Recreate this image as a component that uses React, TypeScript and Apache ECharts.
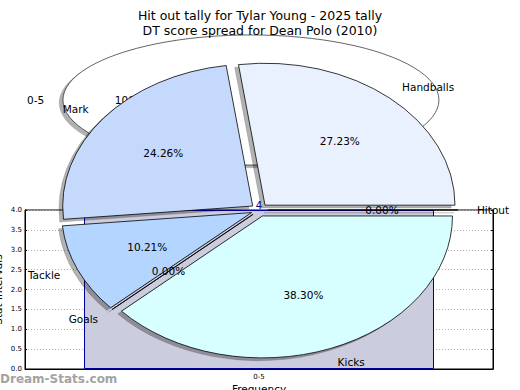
import React, { useEffect, useRef } from "react";
import * as echarts from "echarts";

const titleLines = [
  "Hit out tally for Tylar Young - 2025 tally",
  "DT score spread for Dean Polo (2010)",
];
const barCategories = ["0-5"];
const barValues = [4];
const xAxisName = "Frequency";
const yAxisName = "Stat Intervals";
const pieLabels = ["Kicks", "Goals", "Tackle", "Mark", "Handballs", "Hitout"];
const pieValues = [38.3, 0, 10.21, 24.26, 27.23, 0];
const pieColors = ["#d8ffff", "#c8dcff", "#b3d5ff", "#c5d9fd", "#eaf1fe", "#e2ebff"];
const watermark = "Dream-Stats.com";

const FONT = "DejaVu Sans";
const EXPLODE = 0.045;

type PieGeom = { cx: number; cy: number; rx: number; ry: number };

function makePieRender(
  values: number[],
  labels: string[],
  colors: string[],
  g: PieGeom
) {
  const total = values.reduce((a, b) => a + b, 0);
  const starts: number[] = [];
  let acc = 0;
  values.forEach((v) => {
    starts.push((acc / total) * Math.PI * 2);
    acc += v;
  });
  const sy = g.ry / g.rx;
  return (params: any, api: any) => {
    const i = params.dataIndex;
    const v = api.value(0);
    const start = starts[i];
    const end = start + (v / total) * Math.PI * 2;
    const mid = (start + end) / 2;
    const c = Math.cos(mid);
    const s = Math.sin(mid);
    const ox = EXPLODE * g.rx * c;
    const oy = EXPLODE * g.rx * s;
    const pct = ((v / total) * 100).toFixed(2) + "%";
    const lx = (EXPLODE + 1.1) * g.rx * c;
    const ly = (EXPLODE + 1.1) * g.ry * s;
    const px = (EXPLODE + 0.6) * g.rx * c;
    const py = (EXPLODE + 0.6) * g.ry * s;
    return {
      type: "group",
      x: g.cx,
      y: g.cy,
      children: [
        {
          type: "sector",
          scaleY: sy,
          shape: {
            cx: ox - 3.8,
            cy: oy + 2.8 / sy,
            r: g.rx,
            startAngle: start,
            endAngle: end,
            clockwise: true,
          },
          style: { fill: "rgba(0,0,0,0.3)", stroke: "rgba(0,0,0,0.2)", lineWidth: 0.8, strokeNoScale: true },
          z2: 0,
        },
        {
          type: "sector",
          scaleY: sy,
          shape: {
            cx: ox,
            cy: oy,
            r: g.rx,
            startAngle: start,
            endAngle: end,
            clockwise: true,
          },
          style: {
            fill: colors[i % colors.length],
            stroke: "#000",
            lineWidth: 0.9,
            strokeNoScale: true,
          },
          z2: 10,
        },
        {
          type: "text",
          x: lx,
          y: ly,
          style: {
            text: labels[i],
            fill: "#000",
            fontSize: 10.5,
            fontFamily: FONT,
            align: c > 0.0001 ? "left" : "right",
            verticalAlign: "middle",
          },
          z2: 20,
        },
        {
          type: "text",
          x: px,
          y: py,
          style: {
            text: pct,
            fill: "#000",
            fontSize: 10.5,
            fontFamily: FONT,
            align: "center",
            verticalAlign: "middle",
          },
          z2: 20,
        },
      ],
    };
  };
}

export default function App() {
  const ref = useRef<HTMLDivElement>(null);
  useEffect(() => {
    if (!ref.current) return;
    const chart = echarts.init(ref.current, undefined, { renderer: "svg" });
    const option: any = {
      animation: false,
      backgroundColor: "#fff",
      textStyle: { fontFamily: FONT },
      title: {
        text: titleLines.join("\n"),
        left: "center",
        top: 3,
        textStyle: {
          fontSize: 12.5,
          fontWeight: "normal",
          color: "#000",
          lineHeight: 15,
          fontFamily: FONT,
        },
      },
      grid: {
        left: 25,
        right: 27,
        top: 210,
        bottom: 21,
        show: true,
        borderColor: "#000",
        borderWidth: 1,
        backgroundColor: "transparent",
        containLabel: false,
        outerBoundsMode: "none",
      },
      xAxis: {
        type: "category",
        data: barCategories,
        name: xAxisName,
        nameLocation: "middle",
        nameGap: 14,
        nameTextStyle: { fontSize: 10.5, color: "#000", fontFamily: FONT },
        axisLine: { lineStyle: { color: "#000", width: 1 } },
        axisTick: { inside: true, length: 3, alignWithLabel: true, lineStyle: { color: "#000" } },
        axisLabel: { fontSize: 7, color: "#000", margin: 4, fontFamily: FONT },
      },
      yAxis: [
        {
          type: "value",
          min: 0,
          max: 4,
          interval: 0.5,
          name: yAxisName,
          nameLocation: "middle",
          nameGap: 22,
          nameRotate: 90,
          nameMoveOverlap: false,
          nameTextStyle: { fontSize: 10.5, color: "#000", fontFamily: FONT },
          axisLine: { show: true, lineStyle: { color: "#000" } },
          axisTick: { show: true, inside: true, length: 2, lineStyle: { color: "#000" } },
          axisLabel: {
            fontSize: 7,
            color: "#000",
            margin: 3,
            fontFamily: FONT,
            formatter: (v: number) => v.toFixed(1),
          },
          splitLine: { show: true, lineStyle: { color: "#b0b0b0", type: [1, 2], width: 1 } },
        },
        {
          type: "value",
          min: 0,
          max: 4,
          interval: 0.5,
          position: "right",
          axisLine: { show: true, lineStyle: { color: "#000" } },
          axisTick: { show: true, inside: true, length: 2, lineStyle: { color: "#000" } },
          axisLabel: { show: false },
          splitLine: { show: false },
        },
      ],
      graphic: [
        {
          type: "text",
          left: 0,
          top: 373,
          style: {
            text: watermark,
            fill: "#a3a3a3",
            fontSize: 12,
            fontWeight: "bold",
            fontFamily: FONT,
          },
          z: 100,
        },
      ],
      series: [
        {
          type: "custom",
          coordinateSystem: "none",
          silent: true,
          z: 1,
          data: barValues.map((v) => [v]),
          renderItem: makePieRender(barValues, barCategories, ["#ffffff"], {
            cx: 259.4,
            cy: 100,
            rx: 188,
            ry: 65,
          }),
        },
        {
          type: "bar",
          data: barValues,
          barWidth: 350,
          z: 2,
          itemStyle: { color: "#ccccdf", borderColor: "#0000a0", borderWidth: 1 },
          label: {
            show: true,
            position: "top",
            distance: 0,
            color: "#000080",
            fontSize: 10,
            fontFamily: FONT,
          },
          silent: true,
        },
        {
          type: "custom",
          coordinateSystem: "none",
          silent: true,
          z: 5,
          data: pieValues.map((v) => [v]),
          renderItem: makePieRender(pieValues, pieLabels, pieColors, {
            cx: 259.4,
            cy: 210,
            rx: 190,
            ry: 142,
          }),
        },
      ],
    };
    chart.setOption(option);
    return () => chart.dispose();
  }, []);
  return (
    <div
      ref={ref}
      style={{ position: "absolute", left: 0, top: 0, width: 520, height: 390 }}
    />
  );
}
